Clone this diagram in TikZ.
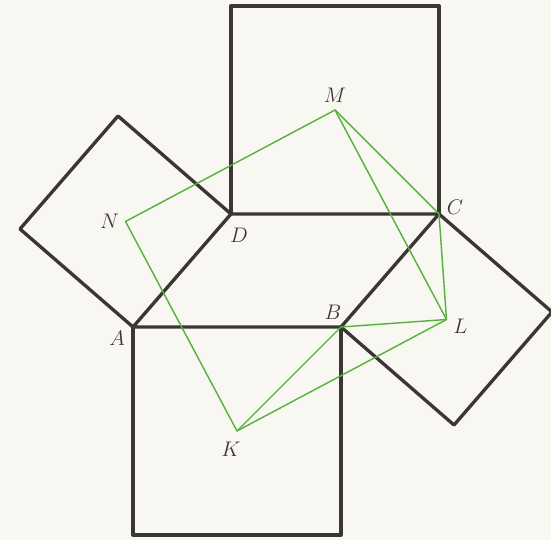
\documentclass[tikz,border=0pt]{standalone}
\usepackage{amsmath}
\usetikzlibrary{calc, positioning}
\definecolor{paper}{RGB}{248,247,242}
\definecolor{inkgray}{RGB}{58,54,52}
\definecolor{linkgreen}{RGB}{84,178,58}

\begin{document}
\begin{tikzpicture}[x=0.02cm, y=0.02cm, line join=round, line cap=round,
  edge/.style={line width=1.9pt, inkgray},
  link/.style={line width=0.8pt, linkgreen},
  lbl/.style={font=\fontsize{12}{14}\selectfont, text=inkgray}]
\def\baselen{208}
\def\shiftx{98}
\def\shifty{113}

% Paper and frame
\fill[paper] (-133,-213) rectangle (418,327);
\useasboundingbox (-133,-213) rectangle (418,327);

% Parallelogram vertices
\coordinate (A) at (0,0);
\coordinate (B) at (\baselen,0);
\coordinate (D) at (\shiftx,\shifty);
\coordinate (C) at ($(B)+(D)$);

% Outer corners of the squares and their centres
\foreach \p/\q/\c in {A/B/K, B/C/L, C/D/M, D/A/N}{
  \coordinate (\p\q1) at ($(\p)!1!-90:(\q)$);
  \coordinate (\p\q2) at ($(\q)!1!90:(\p)$);
  \coordinate (\c) at ($(\p)!0.5!(\p\q2)$);
}

% Squares on the sides
\foreach \p/\q in {A/B, B/C, C/D, D/A}
  \draw[edge] (\p) -- (\p\q1) -- (\p\q2) -- (\q);
\draw[edge] (A) -- (B) -- (C) -- (D) -- cycle;

% Square of the centres
\draw[link] (K) -- (L) -- (M) -- (N) -- cycle;
\draw[link] (K) -- (B) -- (L);
\draw[link] (M) -- (C) -- (L);

% Labels
\node[lbl] (labA) at ($(A)+(-16,-11)$) {$A$};
\node[lbl] (labB) at ($(B)+(-8,15)$) {$B$};
\node[lbl] (labC) at ($(C)+(16,7)$) {$C$};
\node[lbl] (labD) at ($(D)+(8,-21)$) {$D$};
\node[lbl] (labK) at ($(K)+(-6,-18)$) {$K$};
\node[lbl] (labL) at ($(L)+(14,-7)$) {$L$};
\node[lbl] (labM) at ($(M)+(0,15)$) {$M$};
\node[lbl] (labN) at ($(N)+(-16,0)$) {$N$};
\end{tikzpicture}
\end{document}
